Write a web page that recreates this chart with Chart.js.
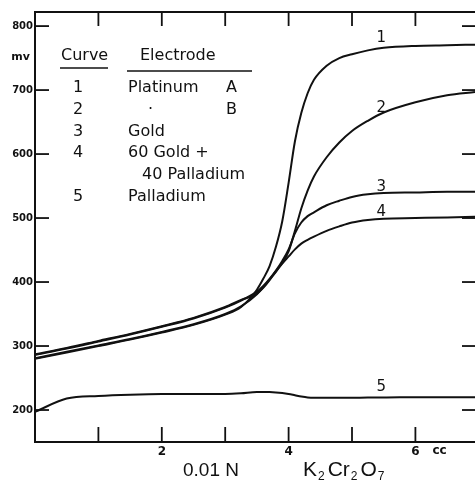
<!DOCTYPE html>
<html><head><meta charset="utf-8">
<script src="https://cdn.jsdelivr.net/npm/chart.js@4/dist/chart.umd.min.js"></script>
<style>html,body{margin:0;padding:0;background:#fff;}canvas{display:block}</style>
</head><body>
<canvas id="c" width="475" height="481"></canvas>
<script>
// volume of 0.01 N K2Cr2O7 added (cc)
const volumes = [0, 0.5, 1, 1.5, 2, 2.5, 3, 3.25, 3.5, 3.6, 3.7, 3.8, 3.9, 4.0, 4.1, 4.2, 4.3, 4.4, 4.6, 4.8, 5.0, 5.25, 5.5, 6.0, 6.5, 6.94];
// potentials (mV)
const curve1 = [280, 290, 300, 310, 321, 333, 349, 361, 388, 405, 425, 455, 495, 555, 620, 664, 695, 716, 738, 750, 756, 762, 766, 769, 770, 771];
const curve2 = [281, 291, 301, 311, 322, 334, 350, 362, 381, 392, 404, 416, 430, 448, 480, 515, 543, 565, 595, 618, 636, 652, 665, 681, 692, 697];
const curve3 = [286, 296, 307, 318, 330, 343, 360, 371, 385, 394, 405, 418, 433, 451, 476, 493, 503, 509, 520, 527, 533, 537, 539, 540, 541, 541];
const curve4 = [287, 297, 308, 319, 331, 344, 361, 372, 382, 391, 403, 417, 429, 440, 451, 460, 466, 471, 480, 487, 493, 497, 499, 500, 501, 502];
const curve5 = [197, 218, 222, 224, 225, 225, 225, 226, 228, 228, 228, 227.5, 226.5, 225, 223, 221, 219.5, 219, 219, 219, 219, 219.5, 219.5, 220, 220, 220];
const curveNames = ['1', '2', '3', '4', '5'];
const yTicks = [200, 300, 400, 500, 600, 700, 800];
const xTicks = [1, 2, 3, 4, 5, 6];
const xTickLabels = ['', '2', '', '4', '', '6'];
const legendNumbers = ['1', '2', '3', '4', '', '5'];
const legendElectrodes = ['Platinum', '\u00b7', 'Gold', '60 Gold +', '40 Palladium', 'Palladium'];
const legendSuffix = ['A', 'B', '', '', '', ''];

const ink = '#111';
const series = [curve1, curve2, curve3, curve4, curve5];
const datasets = series.map((s, i) => ({
  label: curveNames[i],
  data: volumes.map((v, j) => ({x: v, y: s[j]})),
  borderColor: ink,
  borderWidth: 2,
  pointRadius: 0,
  fill: false,
  cubicInterpolationMode: 'monotone'
}));

function seg(ctx, x1, y1, x2, y2) { ctx.beginPath(); ctx.moveTo(x1, y1); ctx.lineTo(x2, y2); ctx.stroke(); }

const paper = {
  id: 'paper',
  afterDatasetsDraw(chart) {
    const {ctx, chartArea: a, scales: {x, y}} = chart;
    ctx.save();
    ctx.strokeStyle = ink; ctx.fillStyle = ink; ctx.lineWidth = 2;
    // frame
    ctx.beginPath();
    ctx.moveTo(a.right, a.top); ctx.lineTo(a.left, a.top); ctx.lineTo(a.left, a.bottom); ctx.lineTo(a.right, a.bottom);
    ctx.stroke();
    ctx.lineWidth = 1.8;
    yTicks.forEach(v => { const py = y.getPixelForValue(v); seg(ctx, a.left, py, a.left + 14, py); seg(ctx, a.right - 13, py, a.right, py); });
    xTicks.forEach(v => { const px = x.getPixelForValue(v); seg(ctx, px, a.top, px, a.top + 14); seg(ctx, px, a.bottom - 15, px, a.bottom); });
    // y tick labels
    ctx.font = 'bold 10px "DejaVu Sans"'; ctx.textAlign = 'right'; ctx.textBaseline = 'middle';
    yTicks.forEach(v => ctx.fillText(String(v), a.left - 2, y.getPixelForValue(v)));
    ctx.font = 'bold 11px "DejaVu Sans"';
    ctx.fillText('mv', a.left - 5, y.getPixelForValue(752));
    // x tick labels
    ctx.font = 'bold 12px "DejaVu Sans"'; ctx.textAlign = 'center'; ctx.textBaseline = 'middle';
    xTicks.forEach((v, i) => { if (xTickLabels[i]) ctx.fillText(xTickLabels[i], x.getPixelForValue(v), a.bottom + 10); });
    ctx.fillText('cc', x.getPixelForValue(6.38), a.bottom + 9);
    // axis title
    ctx.font = '19px "Liberation Sans"'; ctx.textAlign = 'left'; ctx.textBaseline = 'alphabetic';
    const by = a.bottom + 34;
    ctx.fillText('0.01 N', 183, by);
    let cx = 303;
    const parts = [['K', 0], ['2', 1], ['Cr', 0], ['2', 1], ['O', 0], ['7', 1]];
    parts.forEach(([t, sub]) => {
      ctx.font = sub ? '12px "Liberation Sans"' : '21px "Liberation Sans"';
      ctx.fillText(t, cx, sub ? by + 4 : by);
      cx += ctx.measureText(t).width + (sub ? 3 : 1);
    });
    // curve labels
    ctx.font = '15px "DejaVu Sans"'; ctx.textAlign = 'center'; ctx.textBaseline = 'middle';
    const lx = x.getPixelForValue(5.46);
    const ly = [781, 672, 548, 510, 236];
    curveNames.forEach((n, i) => ctx.fillText(n, lx, y.getPixelForValue(ly[i])));
    // legend table
    ctx.font = '16px "DejaVu Sans"'; ctx.textAlign = 'left';
    ctx.fillText('Curve', 61, 56);
    ctx.fillText('Electrode', 140, 56);
    ctx.lineWidth = 1.5;
    seg(ctx, 60, 68, 108, 68);
    seg(ctx, 127, 71, 252, 71);
    const rowY = [88, 110, 132, 153, 175, 197];
    legendNumbers.forEach((n, i) => {
      ctx.textAlign = 'center';
      if (n) ctx.fillText(n, 78, rowY[i]);
      ctx.textAlign = 'left';
      const ex = legendElectrodes[i] === '\u00b7' ? 148 : (i === 4 ? 142 : 128);
      ctx.fillText(legendElectrodes[i], ex, rowY[i]);
      if (legendSuffix[i]) ctx.fillText(legendSuffix[i], 226, rowY[i]);
    });
    ctx.restore();
  }
};

new Chart(document.getElementById('c'), {
  type: 'line',
  data: {datasets},
  options: {
    responsive: false,
    animation: false,
    events: [],
    layout: {padding: {left: 35, right: 0, top: 12, bottom: 39}},
    plugins: {legend: {display: false}, tooltip: {enabled: false}},
    scales: {
      x: {type: 'linear', min: 0, max: 6.94, display: false},
      y: {type: 'linear', min: 150, max: 822, display: false}
    }
  },
  plugins: [paper]
});
</script>
</body></html>
